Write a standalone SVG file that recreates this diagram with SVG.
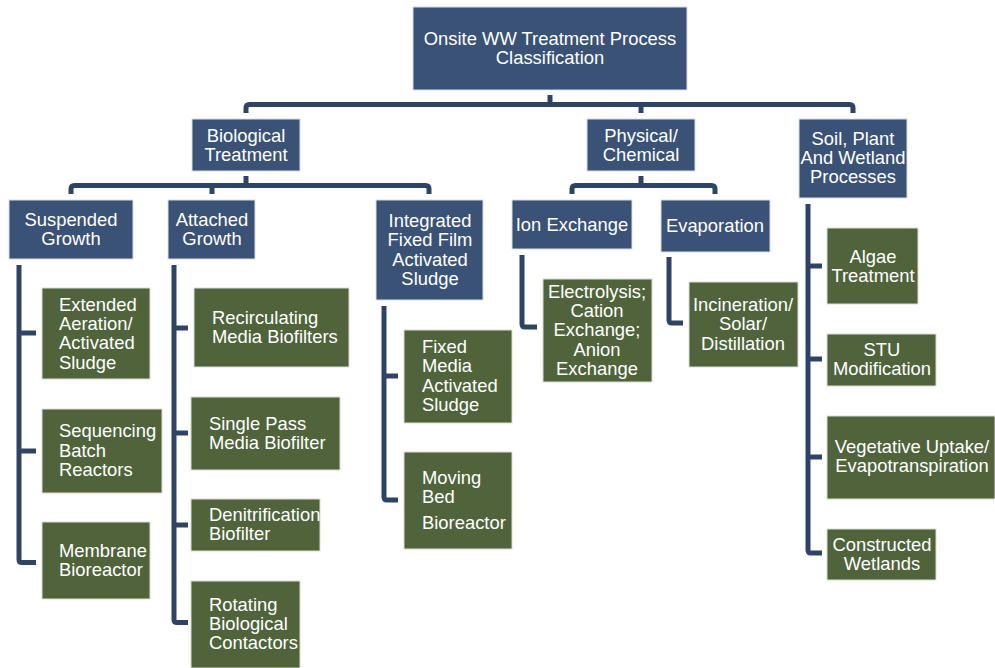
<svg xmlns="http://www.w3.org/2000/svg" width="995" height="668" viewBox="0 0 995 668">
  <style>
    .b { fill: #3a5275; stroke: #d9dde3; stroke-width: 1; }
    .g { fill: #50633b; stroke: #d9ddd3; stroke-width: 1; }
    text { font-family: "Liberation Sans", Arial, sans-serif; font-size: 18.4px; fill: #ffffff; }
    .c { text-anchor: middle; }
    .conn path { fill: none; stroke: #2e4466; stroke-width: 5; stroke-linejoin: round; }
  </style>
  <rect width="995" height="668" fill="#ffffff"/>

  <!-- connectors -->
  <g class="conn" id="connectors">
    <!-- root bracket -->
    <path d="M550,95 V104"/>
    <path d="M246,113 V108 Q246,104.5 249.5,104.5 H849.5 Q853,104.5 853,108 V113"/>
    <path d="M641,104 V113"/>
    <!-- biological bracket -->
    <path d="M246,176 V186"/>
    <path d="M71,194 V189 Q71,185.5 74.5,185.5 H425.5 Q429,185.5 429,189 V194"/>
    <path d="M212,185 V194"/>
    <!-- physical bracket -->
    <path d="M641,176 V186"/>
    <path d="M572,194 V189 Q572,185.5 575.5,185.5 H711.5 Q715,185.5 715,189 V194"/>
    <!-- suspended growth -->
    <path d="M19,265 V559.5 Q19,562.5 22,562.5 H36"/>
    <path d="M19,333 H36"/>
    <path d="M19,451 H36"/>
    <!-- attached growth -->
    <path d="M174,265 V619.5 Q174,622.5 177,622.5 H188"/>
    <path d="M174,328 H188"/>
    <path d="M174,433 H188"/>
    <path d="M174,525 H188"/>
    <!-- integrated fixed film -->
    <path d="M384,306 V497 Q384,500 387,500 H398"/>
    <path d="M384,376 H398"/>
    <!-- ion exchange -->
    <path d="M522,255 V324 Q522,327 525,327 H537"/>
    <!-- evaporation -->
    <path d="M669,257 V320 Q669,323 672,323 H683"/>
    <!-- soil, plant and wetland -->
    <path d="M808,204 V550 Q808,553 811,553 H822"/>
    <path d="M808,266 H822"/>
    <path d="M808,359 H822"/>
    <path d="M808,457 H822"/>
  </g>

  <!-- level 0 -->
  <g id="root">
    <rect class="b" x="413" y="7" width="274" height="83"/>
    <text class="c" x="550" y="45">Onsite WW Treatment Process</text>
    <text class="c" x="550" y="64">Classification</text>
  </g>

  <!-- level 1 -->
  <g id="biological">
    <rect class="b" x="192" y="119" width="108" height="52"/>
    <text class="c" x="246" y="142">Biological</text>
    <text class="c" x="246" y="161">Treatment</text>
  </g>
  <g id="physical">
    <rect class="b" x="587" y="119" width="108" height="52"/>
    <text class="c" x="641" y="142">Physical/</text>
    <text class="c" x="641" y="161">Chemical</text>
  </g>
  <g id="soil">
    <rect class="b" x="799" y="119" width="108" height="79"/>
    <text class="c" x="853" y="145">Soil, Plant</text>
    <text class="c" x="853" y="164">And Wetland</text>
    <text class="c" x="853" y="183">Processes</text>
  </g>

  <!-- level 2 -->
  <g id="suspended">
    <rect class="b" x="9" y="200" width="124" height="59"/>
    <text class="c" x="71" y="226">Suspended</text>
    <text class="c" x="71" y="245">Growth</text>
  </g>
  <g id="attached">
    <rect class="b" x="168" y="200" width="87" height="59"/>
    <text class="c" x="212" y="226">Attached</text>
    <text class="c" x="212" y="245">Growth</text>
  </g>
  <g id="integrated">
    <rect class="b" x="376" y="200" width="107" height="100"/>
    <text class="c" x="430" y="227">Integrated</text>
    <text class="c" x="430" y="246">Fixed Film</text>
    <text class="c" x="430" y="266">Activated</text>
    <text class="c" x="430" y="285">Sludge</text>
  </g>
  <g id="ion-exchange">
    <rect class="b" x="512" y="200" width="120" height="49"/>
    <text class="c" x="572" y="231">Ion Exchange</text>
  </g>
  <g id="evaporation">
    <rect class="b" x="661" y="200" width="109" height="52"/>
    <text class="c" x="715" y="232">Evaporation</text>
  </g>

  <!-- suspended growth processes -->
  <g id="extended-aeration">
    <rect class="g" x="42" y="288" width="108" height="91"/>
    <text x="59" y="311">Extended</text>
    <text x="59" y="330">Aeration/</text>
    <text x="59" y="349">Activated</text>
    <text x="59" y="369">Sludge</text>
  </g>
  <g id="sbr">
    <rect class="g" x="42" y="409" width="120" height="84"/>
    <text x="59" y="437">Sequencing</text>
    <text x="59" y="457">Batch</text>
    <text x="59" y="476">Reactors</text>
  </g>
  <g id="mbr">
    <rect class="g" x="42" y="522" width="108" height="77"/>
    <text x="59" y="557">Membrane</text>
    <text x="59" y="576">Bioreactor</text>
  </g>

  <!-- attached growth processes -->
  <g id="recirculating">
    <rect class="g" x="194" y="288" width="155" height="79"/>
    <text x="212" y="324">Recirculating</text>
    <text x="212" y="343">Media Biofilters</text>
  </g>
  <g id="single-pass">
    <rect class="g" x="191" y="397" width="149" height="73"/>
    <text x="209" y="430">Single Pass</text>
    <text x="209" y="449">Media Biofilter</text>
  </g>
  <g id="denitrification">
    <rect class="g" x="191" y="499" width="129" height="52"/>
    <text x="209" y="521">Denitrification</text>
    <text x="209" y="540">Biofilter</text>
  </g>
  <g id="rbc">
    <rect class="g" x="191" y="581" width="109" height="87"/>
    <text x="209" y="611">Rotating</text>
    <text x="209" y="630">Biological</text>
    <text x="209" y="649">Contactors</text>
  </g>

  <!-- IFAS processes -->
  <g id="fixed-media">
    <rect class="g" x="404" y="330" width="108" height="93"/>
    <text x="422" y="353">Fixed</text>
    <text x="422" y="372">Media</text>
    <text x="422" y="392">Activated</text>
    <text x="422" y="411">Sludge</text>
  </g>
  <g id="mbbr">
    <rect class="g" x="404" y="452" width="108" height="97"/>
    <text x="422" y="484">Moving</text>
    <text x="422" y="503">Bed</text>
    <text x="422" y="529">Bioreactor</text>
  </g>

  <!-- physical/chemical processes -->
  <g id="electrolysis">
    <rect class="g" x="543" y="279" width="109" height="103"/>
    <text class="c" x="597" y="298">Electrolysis;</text>
    <text class="c" x="597" y="317">Cation</text>
    <text class="c" x="597" y="336">Exchange;</text>
    <text class="c" x="597" y="356">Anion</text>
    <text class="c" x="597" y="375">Exchange</text>
  </g>
  <g id="incineration">
    <rect class="g" x="689" y="282" width="109" height="85"/>
    <text class="c" x="743" y="311">Incineration/</text>
    <text class="c" x="743" y="330">Solar/</text>
    <text class="c" x="743" y="350">Distillation</text>
  </g>

  <!-- soil, plant and wetland processes -->
  <g id="algae">
    <rect class="g" x="827" y="228" width="91" height="76"/>
    <text class="c" x="873" y="263">Algae</text>
    <text class="c" x="873" y="282">Treatment</text>
  </g>
  <g id="stu">
    <rect class="g" x="827" y="334" width="109" height="52"/>
    <text class="c" x="882" y="356">STU</text>
    <text class="c" x="882" y="375">Modification</text>
  </g>
  <g id="vegetative">
    <rect class="g" x="827" y="416" width="168" height="83"/>
    <text class="c" x="912" y="453">Vegetative Uptake/</text>
    <text class="c" x="912" y="472">Evapotranspiration</text>
  </g>
  <g id="wetlands">
    <rect class="g" x="827" y="529" width="109" height="51"/>
    <text class="c" x="882" y="551">Constructed</text>
    <text class="c" x="882" y="570">Wetlands</text>
  </g>
</svg>
